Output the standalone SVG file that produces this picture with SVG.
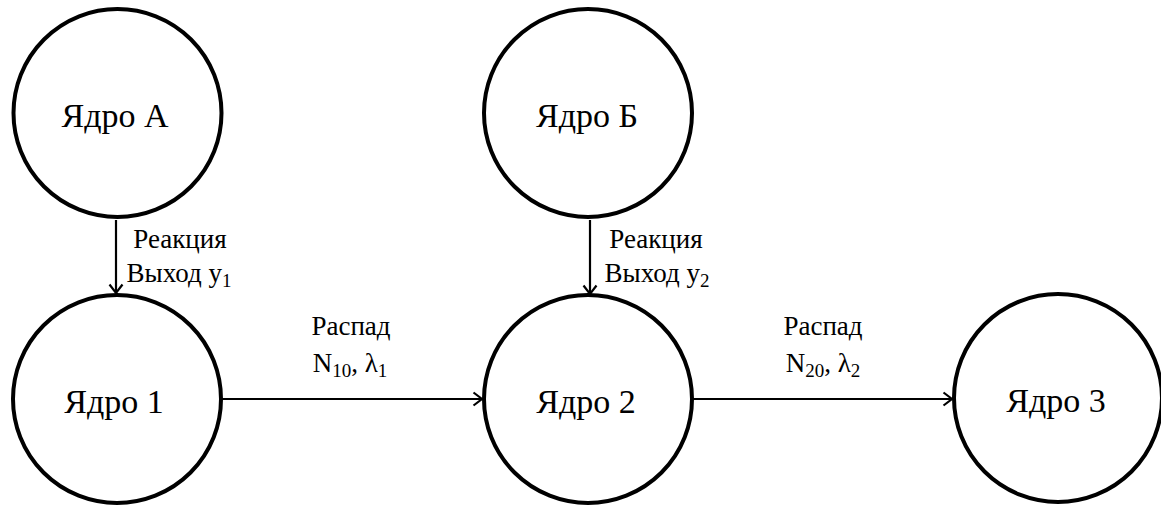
<svg xmlns="http://www.w3.org/2000/svg" width="1161" height="507" viewBox="0 0 1161 507" font-family="Liberation Serif, serif">
<style>
.node{fill:#fff;stroke:#000;stroke-width:4}
text{font-family:"Liberation Serif",serif}
.nt{font-size:34px;text-anchor:middle;fill:#000}
.lt{font-size:27px;text-anchor:middle;fill:#000}
.sub{font-size:19px}
.edge{stroke:#000;stroke-width:2.2;fill:none}
</style>
<defs>
<marker id="arr" markerWidth="12" markerHeight="16" refX="10" refY="8" orient="auto" markerUnits="userSpaceOnUse">
<path d="M1.5,1.5 L10,8 L1.5,14.5" fill="none" stroke="#000" stroke-width="2.2"/>
</marker>
</defs>
<rect width="1161" height="507" fill="#fff"/>
<g id="connectors">
<line class="edge" x1="116" y1="220" x2="116" y2="293" marker-end="url(#arr)"/>
<line class="edge" x1="590" y1="220" x2="590" y2="294" marker-end="url(#arr)"/>
<line class="edge" x1="221" y1="399" x2="482" y2="399" marker-end="url(#arr)"/>
<line class="edge" x1="692" y1="399" x2="952" y2="399" marker-end="url(#arr)"/>
<text class="lt" x="180" y="248" font-family="Liberation Serif">Реакция</text>
<text class="lt" x="179" y="282" font-family="Liberation Serif">Выход y<tspan class="sub" dy="5">1</tspan></text>
<text class="lt" x="656" y="248" font-family="Liberation Serif">Реакция</text>
<text class="lt" x="657" y="282" font-family="Liberation Serif">Выход y<tspan class="sub" dy="5">2</tspan></text>
<text class="lt" x="351" y="335" font-family="Liberation Serif">Распад</text>
<text class="lt" x="350" y="372" font-family="Liberation Serif">N<tspan class="sub" dy="5">10</tspan><tspan dy="-5">, λ</tspan><tspan class="sub" dy="5">1</tspan></text>
<text class="lt" x="823" y="335" font-family="Liberation Serif">Распад</text>
<text class="lt" x="823" y="372" font-family="Liberation Serif">N<tspan class="sub" dy="5">20</tspan><tspan dy="-5">, λ</tspan><tspan class="sub" dy="5">2</tspan></text>
</g>
<g id="nodeA"><circle class="node" cx="117.5" cy="113" r="104"/><text class="nt" x="115" y="127" font-family="Liberation Serif">Ядро А</text></g>
<g id="nodeB"><circle class="node" cx="588" cy="113" r="104"/><text class="nt" x="587" y="127" font-family="Liberation Serif">Ядро Б</text></g>
<g id="node1"><circle class="node" cx="117" cy="399" r="104"/><text class="nt" x="114" y="413" font-family="Liberation Serif">Ядро 1</text></g>
<g id="node2"><circle class="node" cx="588" cy="399" r="104"/><text class="nt" x="586" y="413" font-family="Liberation Serif">Ядро 2</text></g>
<g id="node3"><circle class="node" cx="1058" cy="398" r="104"/><text class="nt" x="1056" y="412" font-family="Liberation Serif">Ядро 3</text></g>
</svg>
